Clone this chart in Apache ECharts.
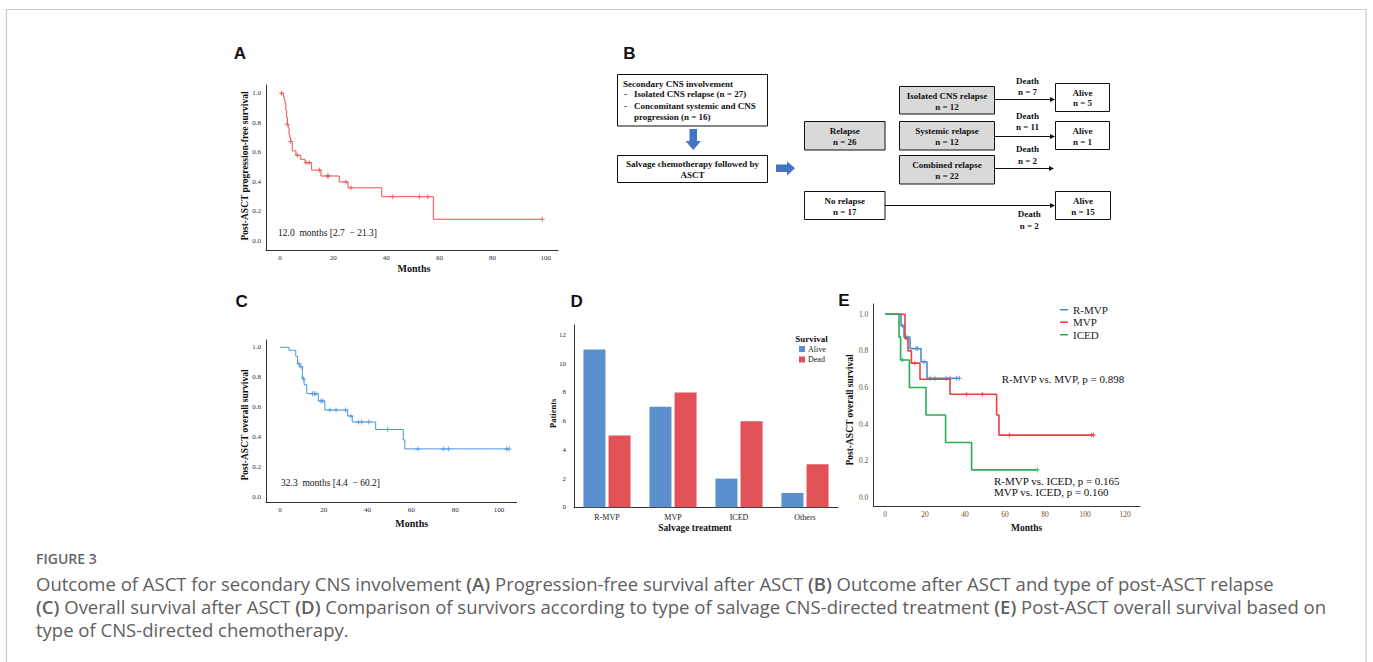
<!DOCTYPE html>
<html>
<head>
<meta charset="utf-8">
<script src="https://cdn.jsdelivr.net/npm/echarts@6/dist/echarts.min.js"></script>
<style>
html, body { margin: 0; padding: 0; background: #fff; }
#main { width: 1373px; height: 662px; }
</style>
</head>
<body>
<div id="main"></div>
<script>
// A: post-ASCT progression-free survival (KM steps)
var pfsTime = [0, 1.3, 1.6, 1.9, 2.2, 2.5, 2.8, 3.1, 3.4, 3.7, 4.0, 4.6, 6.0, 7.8, 9.4, 11.9, 15.4, 22.3, 25.6, 38.3, 57.7, 98.7]
var pfsSurv = [1.0, 0.977, 0.953, 0.93, 0.884, 0.837, 0.79, 0.767, 0.721, 0.698, 0.674, 0.61, 0.58, 0.553, 0.53, 0.48, 0.44, 0.40, 0.36, 0.30, 0.147, 0.147]
var pfsCensor = [[0.6, 1.0], [2.7, 0.79], [4.0, 0.674], [6.5, 0.58], [9.8, 0.53], [11.0, 0.53], [14.8, 0.48], [17.8, 0.44], [18.2, 0.44], [24.8, 0.40], [26.7, 0.36], [42.4, 0.30], [52.4, 0.30], [55.6, 0.30], [98.7, 0.147]]

// C: post-ASCT overall survival
var osTime = [0, 4.1, 7.2, 8.0, 9.0, 10.2, 11.0, 12.2, 17.5, 20.5, 30.9, 33.0, 43.7, 56.3, 57.0, 104.6]
var osSurv = [1.0, 0.98, 0.94, 0.89, 0.87, 0.79, 0.75, 0.69, 0.64, 0.58, 0.54, 0.50, 0.45, 0.38, 0.32, 0.32]
var osCensor = [[8.7, 0.89], [9.6, 0.87], [10.7, 0.79], [14.8, 0.69], [15.7, 0.69], [16.4, 0.69], [18.7, 0.64], [19.5, 0.64], [22.8, 0.58], [25.6, 0.58], [30.0, 0.58], [32.4, 0.54], [35.8, 0.50], [37.3, 0.50], [40.6, 0.50], [49.2, 0.45], [62.9, 0.32], [74.6, 0.32], [76.9, 0.32], [103.5, 0.32], [104.6, 0.32]]

// D: survivors by salvage treatment
var treatments = ['R-MVP', 'MVP', 'ICED', 'Others']
var aliveCount = [11, 7, 2, 1]
var deadCount = [5, 8, 6, 3]

// E: overall survival by regimen
var rmvpTime = [0, 8.0, 9.5, 12.5, 18.0, 21.0, 37.2]
var rmvpSurv = [1.0, 0.9375, 0.875, 0.8125, 0.74, 0.65, 0.65]
var rmvpCensor = [[8.8, 0.9375], [11.0, 0.875], [15.5, 0.8125], [16.3, 0.8125], [19.5, 0.74], [22.5, 0.65], [25.0, 0.65], [30.5, 0.65], [32.5, 0.65], [35.8, 0.65], [37.2, 0.65]]
var mvpTime = [0, 10.0, 11.5, 13.2, 17.5, 32.5, 55.8, 57.0, 104.2]
var mvpSurv = [1.0, 0.867, 0.8, 0.733, 0.645, 0.563, 0.45, 0.34, 0.34]
var mvpCensor = [[15.0, 0.733], [40.8, 0.563], [48.7, 0.563], [62.2, 0.34], [103.3, 0.34], [104.2, 0.34]]
var icedTime = [0, 7.0, 7.8, 12.2, 20.5, 30.3, 43.3, 76.2]
var icedSurv = [1.0, 0.875, 0.75, 0.6, 0.45, 0.3, 0.15, 0.15]
var icedCensor = [[8.7, 0.75], [76.2, 0.15]]

var monthTicksA = [0, 20, 40, 60, 80, 100]
var monthTicksE = [0, 20, 40, 60, 80, 100, 120]
var survTicks = [0, 0.2, 0.4, 0.6, 0.8, 1.0]
var patientTicks = [0, 2, 4, 6, 8, 10, 12]

var serif = '"Liberation Serif", "DejaVu Serif", serif'
var plus = 'path://M2,0H3V5H2Z M0,2H5V3H0Z'

function pairs(t, s) {
    return t.map(function (v, i) { return [v, s[i]] })
}

function valAxis(grid, min, max, ticks, size, color, isY) {
    return {
        type: 'value',
        gridIndex: grid,
        min: min,
        max: max,
        axisLine: { show: true, onZero: false, lineStyle: { color: '#333', width: 1 } },
        axisTick: { show: false },
        splitLine: { show: false },
        axisLabel: {
            customValues: ticks,
            fontFamily: serif,
            fontSize: size,
            color: color,
            margin: isY ? 5 : 4,
            formatter: function (v) { return isY ? v.toFixed(1) : String(Math.round(v)) }
        }
    }
}

function kmLine(name, x, y, data, color, width) {
    return {
        name: name, type: 'line', step: 'end', xAxisIndex: x, yAxisIndex: y,
        data: data, showSymbol: false, silent: true,
        lineStyle: { color: color, width: width }, itemStyle: { color: color }
    }
}

function censor(name, x, y, data, color, size) {
    return {
        name: name, type: 'scatter', xAxisIndex: x, yAxisIndex: y, data: data,
        symbol: plus, symbolSize: size, silent: true,
        itemStyle: { color: color }
    }
}

function txt(x, y, s, font, align, color, rot) {
    return {
        type: 'text', x: x, y: y, rotation: rot || 0, silent: true,
        style: {
            text: s, font: font, fill: color || '#111',
            textAlign: align || 'center', textVerticalAlign: 'middle'
        }
    }
}

function box(x, y, w, h, fill, lines, cx, rows) {
    var out = [{
        type: 'rect', silent: true,
        shape: { x: x, y: y, width: w, height: h },
        style: { fill: fill, stroke: '#111', lineWidth: 1 }
    }]
    lines.forEach(function (s, i) {
        out.push(txt(cx, rows[i], s, 'bold 9px ' + serif, 'center'))
    })
    return out
}

function arrow(x1, x2, y) {
    return [
        { type: 'line', silent: true, shape: { x1: x1, y1: y, x2: x2 - 4, y2: y }, style: { stroke: '#111', lineWidth: 1 } },
        { type: 'polygon', silent: true, shape: { points: [[x2 - 5, y - 2.5], [x2, y], [x2 - 5, y + 2.5]] }, style: { fill: '#111' } }
    ]
}

var bFont = 'bold 9px ' + serif
var flow = []
    .concat([{
        type: 'rect', silent: true, shape: { x: 617.5, y: 74.5, width: 150, height: 51.5 },
        style: { fill: '#fff', stroke: '#111', lineWidth: 1 }
    }])
    .concat([
        txt(623, 83.5, 'Secondary CNS involvement', bFont, 'left'),
        txt(624, 94, '-', bFont, 'left'),
        txt(634, 94, 'Isolated CNS relapse (n = 27)', bFont, 'left'),
        txt(624, 105.5, '-', bFont, 'left'),
        txt(634, 105.5, 'Concomitant systemic and CNS', bFont, 'left'),
        txt(634, 117, 'progression (n = 16)', bFont, 'left')
    ])
    .concat(box(617.5, 155.5, 150, 27, '#fff', ['Salvage chemotherapy followed by', 'ASCT'], 692.5, [163.5, 175]))
    .concat([
        { type: 'polygon', silent: true, shape: { points: [[689.5, 129], [697, 129], [697, 141], [701, 141], [693.3, 150], [685.5, 141], [689.5, 141]] }, style: { fill: '#4472c4' } },
        { type: 'polygon', silent: true, shape: { points: [[776, 164.5], [787, 164.5], [787, 161.5], [795, 168.3], [787, 175.5], [787, 172], [776, 172]] }, style: { fill: '#4472c4' } }
    ])
    .concat(box(804.5, 121.5, 80.5, 28.5, '#d9d9d9', ['Relapse', 'n = 26'], 844.7, [131, 141.7]))
    .concat(box(804.5, 191.5, 80.5, 28, '#fff', ['No relapse', 'n = 17'], 844.7, [201, 211.7]))
    .concat(box(899.5, 86.5, 95, 27.5, '#d9d9d9', ['Isolated CNS relapse', 'n = 12'], 947, [96, 106.7]))
    .concat(box(899.5, 121.5, 95, 28.5, '#d9d9d9', ['Systemic relapse', 'n = 12'], 947, [130.7, 141.7]))
    .concat(box(899.5, 155.5, 95, 28.5, '#d9d9d9', ['Combined relapse', 'n = 22'], 947, [165, 176]))
    .concat(box(1055.5, 83.5, 54, 28, '#fff', ['Alive', 'n = 5'], 1082.5, [92.7, 103.3]))
    .concat(box(1055.5, 121.5, 54, 28, '#fff', ['Alive', 'n = 1'], 1082.5, [130.7, 141.7]))
    .concat(box(1055.5, 191.5, 55, 28, '#fff', ['Alive', 'n = 15'], 1083, [201, 211.7]))
    .concat(arrow(994.5, 1055, 99.5))
    .concat(arrow(994.5, 1055, 136.5))
    .concat(arrow(994.5, 1054, 168.5))
    .concat(arrow(885, 1055, 205.5))
    .concat([
        txt(1027.5, 81, 'Death', bFont), txt(1027.5, 92.3, 'n = 7', bFont),
        txt(1027.5, 116, 'Death', bFont), txt(1027.5, 127.3, 'n = 11', bFont),
        txt(1027.5, 149.3, 'Death', bFont), txt(1027.5, 160.7, 'n = 2', bFont),
        txt(1029.3, 214.3, 'Death', bFont), txt(1029.3, 225.7, 'n = 2', bFont)
    ])

var panelFont = 'bold 17px "Liberation Sans", Arial, sans-serif'
var capNormal = { fontFamily: '"Open Sans", sans-serif', fontSize: 18.5, fill: '#606060', fontWeight: 'normal' }
var capBold = { fontFamily: '"Open Sans", sans-serif', fontSize: 18.5, fill: '#606060', fontWeight: 600 }

var labels = [
    {
        type: 'rect', silent: true, shape: { x: 6.5, y: 9.5, width: 1359.5, height: 700 },
        style: { fill: 'none', stroke: '#cccccc', lineWidth: 1.2 }
    },
    txt(240, 53, 'A', panelFont), txt(629.3, 53, 'B', panelFont), txt(241.7, 301.7, 'C', panelFont),
    txt(576.7, 301.7, 'D', panelFont), txt(844, 300, 'E', panelFont),
    // A
    txt(245, 166, 'Post-ASCT progression-free survival', 'bold 9.5px ' + serif, 'center', '#111', Math.PI / 2),
    txt(414, 268, 'Months', 'bold 10px ' + serif),
    txt(278, 233, '12.0  months [2.7  \u2212 21.3]', '9.5px ' + serif, 'left'),
    // C
    txt(245, 425, 'Post-ASCT overall survival', 'bold 9.5px ' + serif, 'center', '#111', Math.PI / 2),
    txt(411.7, 523.3, 'Months', 'bold 10px ' + serif),
    txt(281, 483.3, '32.3  months [4.4  \u2212 60.2]', '9.5px ' + serif, 'left'),
    // D
    txt(553.3, 413.3, 'Patients', 'bold 8.5px ' + serif, 'center', '#111', Math.PI / 2),
    txt(695, 528, 'Salvage treatment', 'bold 9.5px ' + serif),
    txt(811.5, 339, 'Survival', 'bold 9px ' + serif),
    // E
    txt(850, 410, 'Post-ASCT overall survival', 'bold 9.5px ' + serif, 'center', '#111', Math.PI / 2),
    txt(1026.7, 528.3, 'Months', 'bold 9.5px ' + serif),
    txt(1001.7, 379.3, 'R-MVP vs. MVP, p = 0.898', '11px ' + serif, 'left'),
    txt(994, 480.7, 'R-MVP vs. ICED, p = 0.165', '11px ' + serif, 'left'),
    txt(994, 492.3, 'MVP vs. ICED, p = 0.160', '11px ' + serif, 'left'),
    // caption
    {
        type: 'text', x: 36, y: 558, silent: true,
        style: { text: 'FIGURE 3', font: '600 14px "Open Sans", sans-serif', fill: '#666', textAlign: 'left', textVerticalAlign: 'middle' }
    },
    {
        type: 'text', x: 36, y: 583, silent: true,
        style: {
            text: '{n|Outcome of ASCT for secondary CNS involvement }{b|(A)}{n| Progression-free survival after ASCT }{b|(B)}{n| Outcome after ASCT and type of post-ASCT relapse}',
            rich: { n: capNormal, b: capBold }, textAlign: 'left', textVerticalAlign: 'middle'
        }
    },
    {
        type: 'text', x: 36, y: 606, silent: true,
        style: {
            text: '{b|(C)}{n| Overall survival after ASCT }{b|(D)}{n| Comparison of survivors according to type of salvage CNS-directed treatment }{b|(E)}{n| Post-ASCT overall survival based on}',
            rich: { n: capNormal, b: capBold }, textAlign: 'left', textVerticalAlign: 'middle'
        }
    },
    {
        type: 'text', x: 36, y: 629, silent: true,
        style: {
            text: '{n|type of CNS-directed chemotherapy.}',
            rich: { n: capNormal }, textAlign: 'left', textVerticalAlign: 'middle'
        }
    }
]

var tickColor = '#2a2a44'
var tickColorE = '#6b5533'

var option = {
    backgroundColor: '#fff',
    animation: false,
    grid: [
        { left: 266, top: 85, width: 292, height: 165 },
        { left: 266, top: 340, width: 250.7, height: 162 },
        { left: 574, top: 325, width: 264, height: 182.3 },
        { left: 873.3, top: 304, width: 266.7, height: 202.7 }
    ],
    xAxis: [
        valAxis(0, -5.27, 104.6, monthTicksA, 7, tickColor, false),
        valAxis(1, -6.39, 108.1, monthTicksA, 7, tickColor, false),
        {
            type: 'category', gridIndex: 2, data: treatments,
            axisLine: { lineStyle: { color: '#333' } },
            axisTick: { show: false },
            axisLabel: { fontFamily: serif, fontSize: 8, color: '#222', margin: 6 }
        },
        valAxis(3, -5.85, 127.5, monthTicksE, 7.5, tickColorE, false)
    ],
    yAxis: [
        valAxis(0, -0.061, 1.056, survTicks, 7, tickColor, true),
        valAxis(1, -0.0355, 1.049, survTicks, 7, tickColor, true),
        {
            type: 'value', gridIndex: 2, min: 0, max: 12.7,
            axisLine: { show: true, lineStyle: { color: '#333' } },
            axisTick: { show: false },
            splitLine: { show: false },
            axisLabel: { customValues: patientTicks, fontFamily: serif, fontSize: 7, color: tickColor, margin: 8 }
        },
        valAxis(3, -0.051, 1.056, survTicks, 7.5, tickColorE, true)
    ],
    legend: [
        {
            data: ['Alive', 'Dead'], orient: 'vertical', left: 799, top: 345,
            icon: 'rect', itemWidth: 6, itemHeight: 6, itemGap: 2.5, padding: 0,
            selectedMode: false,
            textStyle: { fontFamily: serif, fontSize: 8, color: '#222', padding: [0, 0, 0, -2] }
        },
        {
            data: ['R-MVP', 'MVP', 'ICED'], orient: 'vertical', left: 1060, top: 304,
            icon: 'rect', itemWidth: 8, itemHeight: 1.5, itemGap: 1, padding: 0,
            selectedMode: false,
            textStyle: { fontFamily: serif, fontSize: 11, color: '#222', lineHeight: 11.5 }
        }
    ],
    series: [
        kmLine('PFS', 0, 0, pairs(pfsTime, pfsSurv), '#e8514f', 1),
        censor('PFS censored', 0, 0, pfsCensor, '#e8514f', 5),
        kmLine('OS', 1, 1, pairs(osTime, osSurv), '#4a94dc', 1),
        censor('OS censored', 1, 1, osCensor, '#4a94dc', 5),
        {
            name: 'Alive', type: 'bar', xAxisIndex: 2, yAxisIndex: 2, data: aliveCount,
            barWidth: 22, barGap: '14%', silent: true,
            itemStyle: { color: '#5b8fcd' }
        },
        {
            name: 'Dead', type: 'bar', xAxisIndex: 2, yAxisIndex: 2, data: deadCount,
            barWidth: 22, barGap: '14%', silent: true,
            itemStyle: { color: '#e05255' }
        },
        kmLine('R-MVP', 3, 3, pairs(rmvpTime, rmvpSurv), '#4a8fd8', 1.6),
        censor('R-MVP censored', 3, 3, rmvpCensor, '#4a8fd8', 5),
        kmLine('MVP', 3, 3, pairs(mvpTime, mvpSurv), '#e8403f', 1.6),
        censor('MVP censored', 3, 3, mvpCensor, '#e8403f', 5),
        kmLine('ICED', 3, 3, pairs(icedTime, icedSurv), '#2aad55', 1.6),
        censor('ICED censored', 3, 3, icedCensor, '#2aad55', 5)
    ],
    graphic: { elements: labels.concat(flow) }
}

var myChart = echarts.init(document.getElementById('main'), null, { renderer: 'svg' })
myChart.setOption(option)
window.addEventListener('resize', function () {
    myChart.resize()
})
</script>
</body>
</html>
